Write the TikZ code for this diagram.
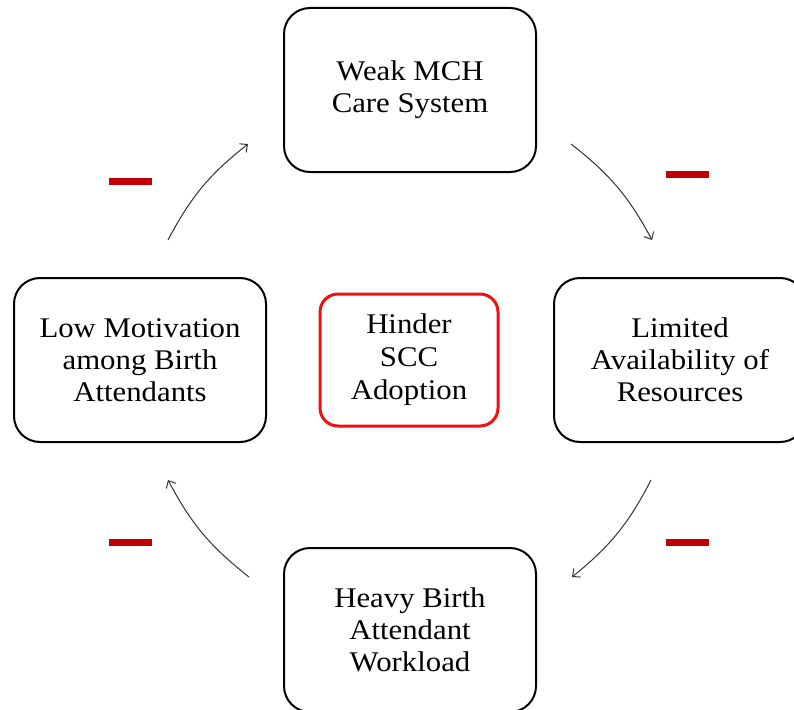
\documentclass[tikz,border=0pt]{standalone}
\usepackage{fontspec}
\setmainfont[FakeStretch=1.08]{Liberation Serif}
\usepackage{xcolor}
\definecolor{BarRed}{HTML}{C00000}
\definecolor{RingRed}{HTML}{F01010}
\definecolor{ArrGray}{HTML}{333333}
\usetikzlibrary{arrows.meta, positioning}
\tikzset{
  box/.style={
    rectangle, rounded corners=26pt, draw=black, line width=2pt,
    minimum width=#1, minimum height=164pt, align=center,
    inner sep=0pt, font=\fontsize{28.5}{32}\selectfont
  },
  box/.default=252pt,
  core/.style={
    rectangle, rounded corners=18pt, draw=RingRed, line width=3pt,
    minimum width=178pt, minimum height=132pt, align=center,
    inner sep=0pt, font=\fontsize{28.5}{33}\selectfont
  },
  arr/.style={-{Straight Barb[length=6pt, width=11pt]}, line width=1pt, color=ArrGray},
  minus/.style={rectangle, fill=BarRed, minimum width=43pt, minimum height=7pt, inner sep=0pt},
}

\begin{document}
\begin{tikzpicture}[x=1pt, y=-1pt]
\useasboundingbox (0,0) rectangle (794,709);

\node[box] at (410,90) (mch) {Weak MCH\\Care System};
\node[box] at (680,360) (res) {Limited\\Availability of\\Resources};
\node[box] at (410,630) (load) {Heavy Birth\\Attendant\\Workload};
\node[box] at (140,360) (motiv) {Low Motivation\\among Birth\\Attendants};

\node[core] at (409,360) (hinder) {Hinder\\SCC\\Adoption};

% Loop arrows
\coordinate (a1s) at (571,144); \coordinate (a1e) at (652,240);
\coordinate (a2s) at (651,480); \coordinate (a2e) at (572,577);
\coordinate (a3s) at (249,577); \coordinate (a3e) at (168,480);
\coordinate (a4s) at (168,240); \coordinate (a4e) at (248,144);
\draw[arr] (a1s) to[bend left=12] (a1e);
\draw[arr] (a2s) to[bend left=12] (a2e);
\draw[arr] (a3s) to[bend left=12] (a3e);
\draw[arr] (a4s) to[bend left=12] (a4e);

% Negative signs
\node[minus] at (687.5,174.5) (m1) {};
\node[minus] at (687.5,542) (m2) {};
\node[minus] at (130.5,542) (m3) {};
\node[minus] at (130.5,181.5) (m4) {};

\end{tikzpicture}
\end{document}
